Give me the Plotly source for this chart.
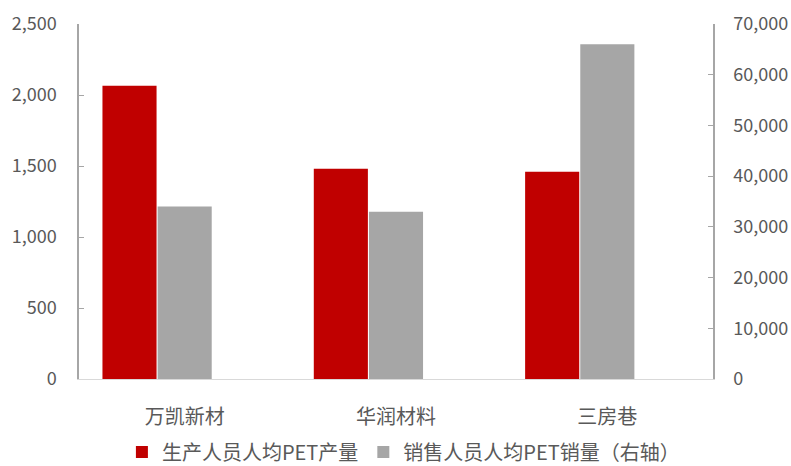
import plotly.graph_objects as go

categories = ["万凯新材", "华润材料", "三房巷"]
prod_per_person = [2065, 1480, 1460]
sales_per_person = [34000, 33000, 66000]

name_prod = "生产人员人均PET产量"
name_sales = "销售人员人均PET销量（右轴）"

font_family = "Noto Sans CJK SC, Microsoft YaHei, sans-serif"
tick_color = "#595959"

bw = 0.256

fig = go.Figure()
fig.add_trace(go.Bar(
    x=categories, y=prod_per_person, name=name_prod,
    marker=dict(color="#c00000", line=dict(width=0)),
    width=bw, offset=-bw / 2 - bw - 0.005, yaxis="y",
))
fig.add_trace(go.Bar(
    x=categories, y=sales_per_person, name=name_sales,
    marker=dict(color="#a6a6a6", line=dict(width=0)),
    width=bw, offset=-bw / 2, yaxis="y2",
))

fig.update_layout(
    width=791, height=466,
    margin=dict(l=79, r=78, t=24, b=87, autoexpand=False),
    paper_bgcolor="white", plot_bgcolor="white",
    barmode="overlay",
    font=dict(family=font_family, color=tick_color),
    showlegend=True,
    legend=dict(orientation="h", x=0.51, xanchor="center", xref="container",
                y=0.03, yanchor="middle", yref="container",
                font=dict(size=20, color=tick_color), itemwidth=30,
                tracegroupgap=0, traceorder="normal",
                bgcolor="rgba(0,0,0,0)"),
    xaxis=dict(
        type="category", showgrid=False, showline=True, linecolor="#d9d9d9",
        linewidth=1, ticks="", tickfont=dict(size=20, color=tick_color),
        ticklabelstandoff=20, range=[-0.5, 2.5],
    ),
    yaxis=dict(
        range=[0, 2500], dtick=500, tickformat=",", showgrid=False,
        showline=True, linecolor="#a6a6a6", linewidth=1.5,
        ticks="inside", ticklen=5, tickcolor="#a6a6a6",
        tickfont=dict(size=18, color=tick_color), zeroline=False,
        ticklabelstandoff=17,
    ),
    yaxis2=dict(
        range=[0, 70000], dtick=10000, tickformat=",", showgrid=False,
        overlaying="y", side="right",
        showline=True, linecolor="#a6a6a6", linewidth=1.5,
        ticks="inside", ticklen=5, tickcolor="#a6a6a6",
        tickfont=dict(size=18, color=tick_color), zeroline=False,
        ticklabelstandoff=15,
    ),
)

fig.write_html("out.html")
